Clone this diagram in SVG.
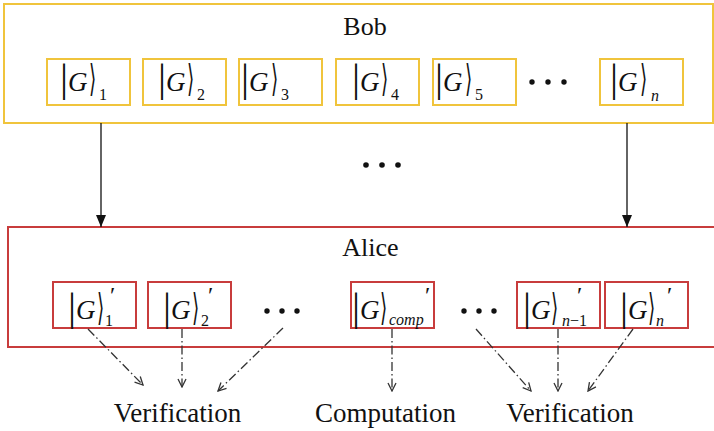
<svg xmlns="http://www.w3.org/2000/svg" width="714" height="431" viewBox="0 0 714 431">
<defs>
<style>
.bob{fill:none;stroke:#F0C43C;stroke-width:2}
.ali{fill:none;stroke:#C83C3C;stroke-width:2}
.t{font-family:"Liberation Serif","Times New Roman",serif;fill:#111}
.bar{font-family:"Liberation Serif",serif;font-size:40px;fill:#111}
.g{font-family:"Liberation Serif",serif;font-style:italic;font-size:27px;fill:#111}
.br{font-family:"DejaVu Serif","DejaVu Sans",serif;font-size:37px;fill:#111}
.sub{font-family:"Liberation Serif",serif;font-size:16px;fill:#111}
.it{font-style:italic}
.pr{font-family:"Liberation Serif",serif;font-size:24px;fill:#111}
.dc{fill:none;stroke:#333;stroke-width:1.3;stroke-dasharray:9 3 1.5 3}
.sol{stroke:#111;stroke-width:1.3}
.dot{fill:#111}
</style>
<marker id="open" viewBox="0 0 10 10" refX="9" refY="5" markerWidth="10" markerHeight="10" markerUnits="userSpaceOnUse" orient="auto">
<path d="M1,1 L9,5 L1,9" fill="none" stroke="#333" stroke-width="1.3"/>
</marker>
<marker id="solid" viewBox="0 0 10 12" refX="5" refY="12" markerWidth="10" markerHeight="12" markerUnits="userSpaceOnUse" orient="0">
<path d="M0,0 L10,0 L5,12 Z" fill="#111"/>
</marker>
</defs>
<rect width="714" height="431" fill="#fff"/>

<g id="bob">
<rect class="bob" x="4" y="4" width="709" height="119"/>
<text class="t" x="365" y="35" font-size="26" text-anchor="middle">Bob</text>
</g>
<g id="bob-1"><rect class="bob" x="47" y="59" width="83" height="46"/><text class="bar" x="60" y="91">|</text><text class="g" x="68" y="91">G</text><text class="br" transform="translate(89,91) scale(0.5,1)">⟩</text><text class="sub" x="99" y="100">1</text></g>
<g id="bob-2"><rect class="bob" x="143" y="59" width="83" height="46"/><text class="bar" x="158" y="91">|</text><text class="g" x="166" y="91">G</text><text class="br" transform="translate(187,91) scale(0.5,1)">⟩</text><text class="sub" x="197" y="100">2</text></g>
<g id="bob-3"><rect class="bob" x="239" y="59" width="83" height="46"/><text class="bar" x="241" y="91">|</text><text class="g" x="249" y="91">G</text><text class="br" transform="translate(271,91) scale(0.5,1)">⟩</text><text class="sub" x="281" y="100">3</text></g>
<g id="bob-4"><rect class="bob" x="336" y="59" width="83" height="46"/><text class="bar" x="352" y="91">|</text><text class="g" x="360" y="91">G</text><text class="br" transform="translate(381,91) scale(0.5,1)">⟩</text><text class="sub" x="391" y="100">4</text></g>
<g id="bob-5"><rect class="bob" x="433" y="59" width="83" height="46"/><text class="bar" x="435" y="91">|</text><text class="g" x="443" y="91">G</text><text class="br" transform="translate(465,91) scale(0.5,1)">⟩</text><text class="sub" x="475" y="100">5</text></g>
<g id="bob-dots"><circle class="dot" cx="532" cy="82" r="2.7"/><circle class="dot" cx="548" cy="82" r="2.7"/><circle class="dot" cx="564" cy="82" r="2.7"/></g>
<g id="bob-n"><rect class="bob" x="600" y="59" width="83" height="46"/><text class="bar" x="610" y="91">|</text><text class="g" x="618" y="91">G</text><text class="br" transform="translate(640,91) scale(0.5,1)">⟩</text><text class="sub it" x="651" y="101">n</text></g>

<g id="mid-dots"><circle class="dot" cx="366" cy="165" r="2.8"/><circle class="dot" cx="382" cy="165" r="2.8"/><circle class="dot" cx="398" cy="165" r="2.8"/></g>

<g id="alice">
<rect class="ali" x="8" y="227" width="712" height="120"/>
<text class="t" x="370.5" y="256" font-size="26" text-anchor="middle">Alice</text>
</g>
<g id="alice-1"><rect class="ali" x="53" y="282" width="83" height="46"/><text class="bar" x="68" y="320">|</text><text class="g" x="76" y="319">G</text><text class="br" transform="translate(97,320) scale(0.5,1)">⟩</text><text class="sub" x="105" y="326">1</text><text class="pr" x="110" y="303">′</text></g>
<g id="alice-2"><rect class="ali" x="148" y="282" width="83" height="46"/><text class="bar" x="163" y="320">|</text><text class="g" x="171" y="319">G</text><text class="br" transform="translate(192,320) scale(0.5,1)">⟩</text><text class="sub" x="201" y="326">2</text><text class="pr" x="208" y="303">′</text></g>
<g id="alice-dots1"><circle class="dot" cx="267" cy="311" r="2.7"/><circle class="dot" cx="282" cy="311" r="2.7"/><circle class="dot" cx="297" cy="311" r="2.7"/></g>
<g id="alice-comp"><rect class="ali" x="351" y="282" width="83" height="46"/><text class="bar" x="352" y="320">|</text><text class="g" x="360" y="319">G</text><text class="br" transform="translate(380,320) scale(0.5,1)">⟩</text><text class="sub it" x="389" y="325">comp</text><text class="pr" x="425" y="303">′</text></g>
<g id="alice-dots2"><circle class="dot" cx="464" cy="311" r="2.7"/><circle class="dot" cx="479" cy="311" r="2.7"/><circle class="dot" cx="494" cy="311" r="2.7"/></g>
<g id="alice-n1"><rect class="ali" x="517" y="282" width="83" height="46"/><text class="bar" x="523" y="320">|</text><text class="g" x="531" y="319">G</text><text class="br" transform="translate(551,320) scale(0.5,1)">⟩</text><text class="sub" x="562" y="326"><tspan class="it">n</tspan>−1</text><text class="pr" x="577" y="303">′</text></g>
<g id="alice-n"><rect class="ali" x="605" y="282" width="83" height="46"/><text class="bar" x="620" y="320">|</text><text class="g" x="628" y="319">G</text><text class="br" transform="translate(648,320) scale(0.5,1)">⟩</text><text class="sub it" x="656" y="326">n</text><text class="pr" x="667" y="303">′</text></g>

<g id="connectors">
<line class="sol" x1="101" y1="123" x2="101" y2="227" marker-end="url(#solid)"/>
<line class="sol" x1="627" y1="123" x2="627" y2="227" marker-end="url(#solid)"/>
<line class="dc" x1="88" y1="329" x2="143" y2="385" marker-end="url(#open)"/>
<line class="dc" x1="182" y1="329" x2="182" y2="387" marker-end="url(#open)"/>
<line class="dc" x1="283" y1="328" x2="218" y2="391" marker-end="url(#open)"/>
<line class="dc" x1="392" y1="329" x2="392" y2="391" marker-end="url(#open)"/>
<line class="dc" x1="476" y1="329" x2="531" y2="391" marker-end="url(#open)"/>
<line class="dc" x1="558" y1="329" x2="558" y2="391" marker-end="url(#open)"/>
<line class="dc" x1="633" y1="329" x2="588" y2="391" marker-end="url(#open)"/>
</g>

<g id="labels">
<text class="t" x="177.5" y="422" font-size="27" text-anchor="middle">Verification</text>
<text class="t" x="385.5" y="422" font-size="27" text-anchor="middle">Computation</text>
<text class="t" x="570" y="422" font-size="27" text-anchor="middle">Verification</text>
</g>
</svg>
